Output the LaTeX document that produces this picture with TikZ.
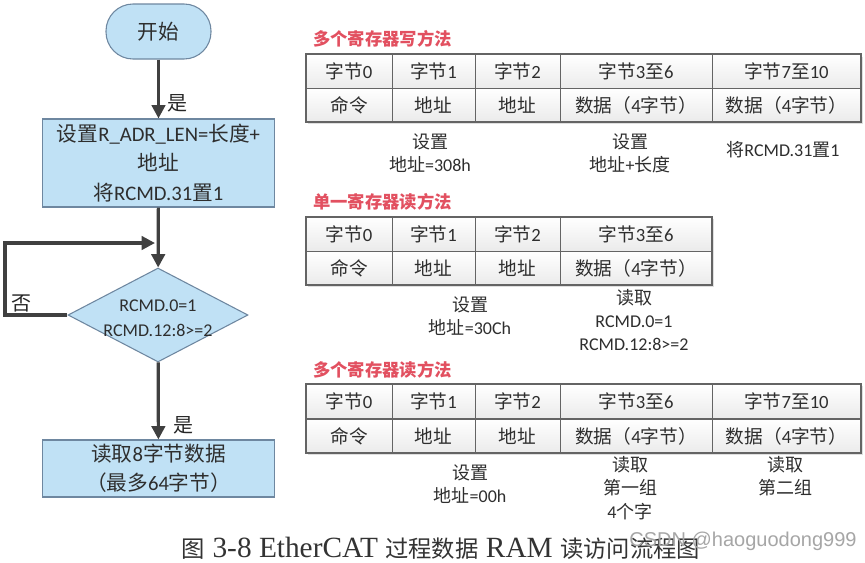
\documentclass[tikz,border=0pt]{standalone}
\usepackage{fontspec}
\setmainfont{Carlito}
\newfontfamily\cjk{Noto Sans CJK SC}
\newfontfamily\capserif{Liberation Serif}
\newfontfamily\wmfont{Liberation Sans}
\usetikzlibrary{shapes.geometric,arrows.meta}
\newcommand\zh[1]{{\cjk #1}}
\definecolor{boxfill}{RGB}{192,225,245}
\definecolor{boxedge}{RGB}{110,135,160}
\definecolor{arrowc}{RGB}{64,64,64}
\definecolor{titlered}{RGB}{226,80,96}
\definecolor{celledge}{RGB}{100,100,100}
\begin{document}
\begin{tikzpicture}[x=0.75pt,y=-0.75pt,
  cell/.style={draw=celledge, line width=0.6pt, top color=white, bottom color=gray!16,
    minimum height=34*0.75pt, inner sep=0pt, font=\fontsize{14}{16}\selectfont, text=black!82},
  ttl/.style={font=\fontsize{13}{15}\selectfont\cjk\bfseries, text=titlered, anchor=west, inner sep=0pt},
  note/.style={font=\fontsize{13.5}{17.5}\selectfont, align=center, text=black!82, inner sep=0pt},
  fbox/.style={draw=boxedge, fill=boxfill, line width=0.8pt, align=center, inner sep=0pt,
    font=\fontsize{15.5}{22}\selectfont, text=black!82},
  arr/.style={draw=arrowc, line width=2.4pt, -{Triangle[length=10pt,width=10pt]}},
  lbl/.style={font=\fontsize{15}{17}\selectfont\cjk, text=black!85, inner sep=0pt},
  outer/.style={draw=celledge, line width=1.4pt}
]
\useasboundingbox (0,0) rectangle (865,562);
\fill[white] (0,0) rectangle (865,562);

% ---------------- flowchart ----------------
\node[fbox, minimum width=105*0.75pt, minimum height=55*0.75pt, rounded corners=27*0.75pt] (start) at (158.5,31.5) {\zh{开始}};
\node[fbox, minimum width=232*0.75pt, minimum height=88*0.75pt] (set) at (158.5,163)
  {\zh{设置}R\_ADR\_LEN=\zh{长度}+\\\zh{地址}\\\zh{将}RCMD.31\zh{置}1};
\node[diamond, draw=boxedge, fill=boxfill, line width=0.8pt, inner sep=0pt,
  minimum width=180*0.75pt, minimum height=94*0.75pt] (dec) at (158,315) {};
\node[align=center, inner sep=0pt, font=\fontsize{13.5}{19}\selectfont, text=black!82] (dect) at (158,318) {RCMD.0=1\\RCMD.12:8>=2};
\node[fbox, minimum width=232*0.75pt, minimum height=57*0.75pt] (read) at (158.5,468.5)
  {\zh{读取}8\zh{字节数据}\\\zh{（最多}64\zh{字节）}};

\draw[arr] (start) -- (set);
\draw[arr] (set) -- (dec);
\draw[arr] (dec) -- (read);
\coordinate (loopL) at (5,243);
\coordinate (loopE) at (155,243);
\draw[arr] (dec.west) -| (loopL) -- (loopE);

\node[lbl] (yes1) at (177,103) {是};
\node[lbl] (no1) at (22,303) {否};
\node[lbl] (yes2) at (183,425) {是};

% ---------------- table 1 ----------------
\node[ttl] (t1title) at (313,39) {多个寄存器写方法};
\fill[gray!25] (308,57) rectangle (863,124);
\node[cell, minimum width=86*0.75pt]  (a00) at (349,71.5)   {\zh{字节}0};
\node[cell, minimum width=83*0.75pt]  (a01) at (433.5,71.5) {\zh{字节}1};
\node[cell, minimum width=85*0.75pt]  (a02) at (517.5,71.5) {\zh{字节}2};
\node[cell, minimum width=152*0.75pt] (a03) at (636,71.5)   {\zh{字节}3\zh{至}6};
\node[cell, minimum width=149*0.75pt] (a04) at (786.5,71.5) {\zh{字节}7\zh{至}10};
\node[cell, minimum width=86*0.75pt]  (a10) at (349,105)    {\zh{命令}};
\node[cell, minimum width=83*0.75pt]  (a11) at (433.5,105)  {\zh{地址}};
\node[cell, minimum width=85*0.75pt]  (a12) at (517.5,105)  {\zh{地址}};
\node[cell, minimum width=152*0.75pt] (a13) at (636,105)    {\zh{数据（}4\zh{字节）}};
\node[cell, minimum width=149*0.75pt] (a14) at (786.5,105)  {\zh{数据（}4\zh{字节）}};
\draw[outer] (a00.north west) rectangle (a14.south east);

\node[note] (n11) at (430,153) {\zh{设置}\\\zh{地址}=308h};
\node[note] (n12) at (630,153) {\zh{设置}\\\zh{地址}+\zh{长度}};
\node[note] (n13) at (783,150) {\zh{将}RCMD.31\zh{置}1};

% ---------------- table 2 ----------------
\node[ttl] (t2title) at (313,202) {单一寄存器读方法};
\fill[gray!25] (308,219) rectangle (714,287);
\node[cell, minimum width=86*0.75pt]  (b00) at (349,234)   {\zh{字节}0};
\node[cell, minimum width=83*0.75pt]  (b01) at (433.5,234) {\zh{字节}1};
\node[cell, minimum width=85*0.75pt]  (b02) at (517.5,234) {\zh{字节}2};
\node[cell, minimum width=152*0.75pt] (b03) at (636,234)   {\zh{字节}3\zh{至}6};
\node[cell, minimum width=86*0.75pt]  (b10) at (349,268)   {\zh{命令}};
\node[cell, minimum width=83*0.75pt]  (b11) at (433.5,268) {\zh{地址}};
\node[cell, minimum width=85*0.75pt]  (b12) at (517.5,268) {\zh{地址}};
\node[cell, minimum width=152*0.75pt] (b13) at (636,268)   {\zh{数据（}4\zh{字节）}};
\draw[outer] (b00.north west) rectangle (b13.south east);

\node[note] (n21) at (470,316) {\zh{设置}\\\zh{地址}=30Ch};
\node[note] (n22) at (634,320) {\zh{读取}\\RCMD.0=1\\RCMD.12:8>=2};

% ---------------- table 3 ----------------
\node[ttl] (t3title) at (313,370) {多个寄存器读方法};
\fill[gray!25] (308,386) rectangle (863,455);
\node[cell, minimum width=86*0.75pt]  (c00) at (349,401.5)   {\zh{字节}0};
\node[cell, minimum width=83*0.75pt]  (c01) at (433.5,401.5) {\zh{字节}1};
\node[cell, minimum width=85*0.75pt]  (c02) at (517.5,401.5) {\zh{字节}2};
\node[cell, minimum width=152*0.75pt] (c03) at (636,401.5)   {\zh{字节}3\zh{至}6};
\node[cell, minimum width=149*0.75pt] (c04) at (786.5,401.5) {\zh{字节}7\zh{至}10};
\node[cell, minimum width=86*0.75pt]  (c10) at (349,436)     {\zh{命令}};
\node[cell, minimum width=83*0.75pt]  (c11) at (433.5,436)   {\zh{地址}};
\node[cell, minimum width=85*0.75pt]  (c12) at (517.5,436)   {\zh{地址}};
\node[cell, minimum width=152*0.75pt] (c13) at (636,436)     {\zh{数据（}4\zh{字节）}};
\node[cell, minimum width=149*0.75pt] (c14) at (786.5,436)   {\zh{数据（}4\zh{字节）}};
\draw[outer] (c00.north west) rectangle (c14.south east);

\node[note] (n31) at (470,484) {\zh{设置}\\\zh{地址}=00h};
\node[note] (n32) at (630,488) {\zh{读取}\\\zh{第一组}\\4\zh{个字}};
\node[note] (n33) at (785,476) {\zh{读取}\\\zh{第二组}};

% ---------------- caption ----------------
\node[inner sep=0pt, text=black!80] (cap) at (441,548)
  {\capserif\fontsize{22}{25}\selectfont{\cjk\fontsize{17.5}{25}\selectfont 图} 3-8 EtherCAT {\cjk\fontsize{17.5}{25}\selectfont 过程数据} RAM {\cjk\fontsize{17.5}{25}\selectfont 读访问流程图}};
\node[inner sep=0pt, text=gray!70, font=\wmfont\fontsize{15}{17}\selectfont] (wm) at (743,541) {CSDN @haoguodong999};
\end{tikzpicture}
\end{document}
